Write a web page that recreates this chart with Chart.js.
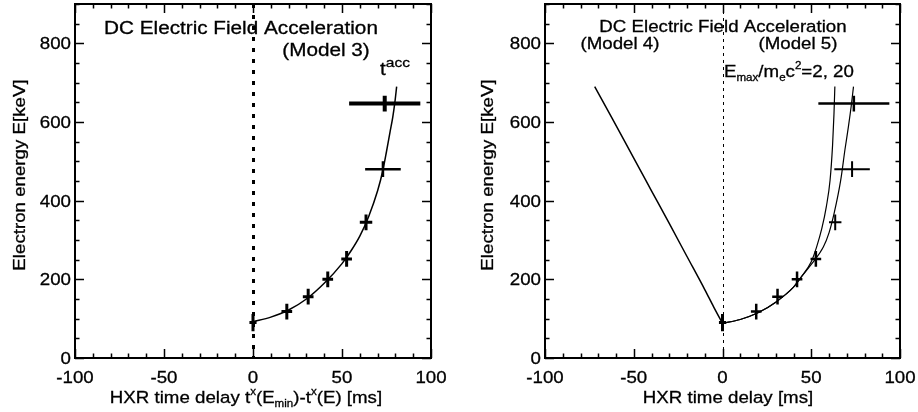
<!DOCTYPE html>
<html>
<head>
<meta charset="utf-8">
<script src="https://cdn.jsdelivr.net/npm/chart.js@4/dist/chart.umd.min.js"></script>
<style>
  html, body { margin: 0; padding: 0; background: #fff; }
  #wrap { display: flex; width: 918px; height: 412px; }
  canvas { display: block; }
</style>
</head>
<body>
<div id="wrap">
  <canvas id="left" width="459" height="412"></canvas>
  <canvas id="right" width="459" height="412"></canvas>
</div>
<script>
// Measured hard X-ray time delays and electron energies
const delayMs      = [0, 19, 31, 42, 52.6, 63.5, 73, 74];
const energyKeV    = [90, 118, 156, 200, 252, 345, 480, 647];
const delayErrMs   = [2, 3, 3, 3, 3, 3.5, 10, 20];
const energyErrKeV = [22, 20, 20, 20, 20, 20, 20, 20];

// Model 3: DC field acceleration time t_acc(E)
const model3T = [0, 10, 20, 30, 40, 50, 55, 60, 65, 70, 73, 75, 77, 78.5, 79.7, 80.7];
const model3E = [92, 104, 122, 150, 190, 240, 272, 310, 360, 425, 478, 525, 575, 612, 650, 690];

// Model 4: negative delays
const model4T = [-72, -62, -50, -40, -30, -20, -10, -5, 0];
const model4E = [690, 608, 508, 425, 342, 258, 174, 130, 88];

// Model 5: Emax/mc^2 = 2 and 20
const model5aT = [0, 10, 20, 30, 40, 44, 50, 53, 56, 58.5, 60.6, 62, 62.8, 63.3];
const model5aE = [88, 98, 115, 142, 180, 204, 245, 282, 330, 385, 452, 540, 620, 690];
const model5bT = [0, 10, 20, 30, 40, 44, 50, 56.8, 60, 63, 66.6, 69, 71, 72.5, 73.8];
const model5bE = [88, 98, 115, 142, 180, 204, 238, 282, 318, 370, 452, 530, 590, 640, 690];

// Axis ticks
const xTicks = [-100, -50, 0, 50, 100];
const yTicks = [0, 200, 400, 600, 800];

const FONT = '"Liberation Sans", Arial, Helvetica, sans-serif';

function runWidth(ctx, runs, size, sx) {
  let w = 0;
  for (const r of runs) {
    ctx.font = (r.v ? size * (r.k || 0.62) : size) + 'px ' + FONT;
    w += ctx.measureText(r.t).width * sx;
  }
  return w;
}
function drawRuns(ctx, runs, x, y, size, align, sx) {
  sx = sx || 1.1;
  const w = runWidth(ctx, runs, size, sx);
  let cx = align === 'center' ? x - w / 2 : align === 'right' ? x - w : x;
  ctx.textAlign = 'left';
  ctx.textBaseline = 'alphabetic';
  ctx.fillStyle = '#000';
  ctx.strokeStyle = '#000';
  ctx.lineWidth = 0.3;
  ctx.setLineDash([]);
  for (const r of runs) {
    const fs = r.v ? size * (r.k || 0.62) : size;
    ctx.font = fs + 'px ' + FONT;
    const dy = r.v === 'sup' ? -size * 0.45 : r.v === 'sub' ? size * 0.22 : 0;
    ctx.save();
    ctx.translate(cx, y + dy);
    ctx.scale(sx, 1);
    ctx.fillText(r.t, 0, 0);
    ctx.strokeText(r.t, 0, 0);
    ctx.restore();
    cx += ctx.measureText(r.t).width * sx;
  }
}
const T = s => [{ t: s }];

function curve(ts, es) { return ts.map((t, i) => ({ x: t, y: es[i] })); }

function lineSet(ts, es, w) {
  return {
    type: 'line', data: curve(ts, es), borderColor: '#000', borderWidth: w,
    pointRadius: 0, fill: false, cubicInterpolationMode: 'monotone'
  };
}

function panelPlugin(cfg) {
  return {
    id: 'panel',
    beforeDatasetsDraw(chart) {
      const { ctx, chartArea: a, scales: { x } } = chart;
      const x0 = Math.round(x.getPixelForValue(0)) + 0.5;
      ctx.save();
      ctx.strokeStyle = '#000';
      ctx.lineWidth = cfg.zeroWidth;
      ctx.setLineDash(cfg.zeroDash);
      ctx.beginPath();
      ctx.moveTo(x0, a.top);
      ctx.lineTo(x0, a.bottom);
      ctx.stroke();
      ctx.restore();
    },
    afterDatasetsDraw(chart) {
      const { ctx, chartArea: a, scales: { x, y } } = chart;
      ctx.save();
      // error bars
      ctx.strokeStyle = '#000';
      ctx.lineCap = 'butt';
      delayMs.forEach((t, i) => {
        const px = x.getPixelForValue(t), py = y.getPixelForValue(energyKeV[i]);
        ctx.lineWidth = cfg.barWidth[i];
        ctx.beginPath();
        ctx.moveTo(x.getPixelForValue(t - delayErrMs[i]), py);
        ctx.lineTo(x.getPixelForValue(t + delayErrMs[i]), py);
        ctx.moveTo(px, y.getPixelForValue(energyKeV[i] - energyErrKeV[i]));
        ctx.lineTo(px, y.getPixelForValue(energyKeV[i] + energyErrKeV[i]));
        ctx.stroke();
      });
      // frame
      ctx.lineWidth = 2;
      ctx.strokeRect(a.left, a.top, a.right - a.left, a.bottom - a.top);
      // inward ticks on all four sides
      ctx.lineWidth = 1.5;
      ctx.beginPath();
      for (let v = -100; v <= 100; v += 10) {
        const L = v % 50 === 0 ? 9 : 4.5;
        const px = Math.round(x.getPixelForValue(v)) + 0.5;
        ctx.moveTo(px, a.bottom); ctx.lineTo(px, a.bottom - L);
        ctx.moveTo(px, a.top); ctx.lineTo(px, a.top + L);
      }
      for (let v = 0; v <= 900; v += 50) {
        const L = v % 200 === 0 ? 9 : 4.5;
        const py = Math.round(y.getPixelForValue(v)) + 0.5;
        ctx.moveTo(a.left, py); ctx.lineTo(a.left + L, py);
        ctx.moveTo(a.right, py); ctx.lineTo(a.right - L, py);
      }
      ctx.stroke();
      // tick labels
      xTicks.forEach(v => drawRuns(ctx, T(String(v)), x.getPixelForValue(v), 383, 17, 'center'));
      yTicks.forEach(v => drawRuns(ctx, T(String(v)), a.left - 4, y.getPixelForValue(v) + 6, 17, 'right'));
      // axis titles
      drawRuns(ctx, cfg.xTitle, cfg.xTitleX, 403, 17, 'center');
      ctx.save();
      ctx.translate(cfg.yTitleX, 175);
      ctx.rotate(-Math.PI / 2);
      drawRuns(ctx, T('Electron energy E[keV]'), 0, 6, 17, 'center');
      ctx.restore();
      // annotations
      cfg.notes.forEach(n => drawRuns(ctx, n.runs, n.x, n.y, n.size || 17, n.align || 'center', n.sx));
      ctx.restore();
    }
  };
}

function makeChart(id, datasets, pad, cfg) {
  return new Chart(document.getElementById(id), {
    type: 'scatter',
    data: { datasets },
    options: {
      responsive: false, animation: false, devicePixelRatio: 1,
      layout: { padding: pad },
      plugins: { legend: { display: false }, tooltip: { enabled: false } },
      scales: {
        x: { type: 'linear', min: -100, max: 100, display: false },
        y: { type: 'linear', min: 0, max: 900, display: false }
      }
    },
    plugins: [panelPlugin(cfg)]
  });
}

makeChart('left', [lineSet(model3T, model3E, 1.5)],
  { left: 75, right: 28, top: 4, bottom: 54 },
  {
    zeroWidth: 3, zeroDash: [4, 7],
    barWidth: [3, 3, 3, 3, 3, 3, 2.5, 4],
    xTitleX: 246,
    xTitle: [{ t: 'HXR time delay t' }, { t: 'x', v: 'sup' }, { t: '(E' }, { t: 'min', v: 'sub' },
             { t: ')-t' }, { t: 'x', v: 'sup' }, { t: '(E) [ms]' }],
    yTitleX: 19,
    notes: [
      { runs: T('DC Electric Field Acceleration'), x: 241, y: 34, size: 18, sx: 1.15 },
      { runs: T('(Model 3)'), x: 326, y: 56, size: 18, sx: 1.15 },
      { runs: [{ t: 't' }, { t: 'acc', v: 'sup', k: 0.75 }], x: 380, y: 75, align: 'left', size: 18, sx: 1.15 }
    ]
  });

makeChart('right', [lineSet(model4T, model4E, 1.5), lineSet(model5aT, model5aE, 1.2), lineSet(model5bT, model5bE, 1.2)],
  { left: 86, right: 18, top: 4, bottom: 54 },
  {
    zeroWidth: 1, zeroDash: [3, 4],
    barWidth: [3, 2.5, 2.5, 2.5, 2.5, 2, 2, 2.5],
    xTitleX: 269,
    xTitle: T('HXR time delay [ms]'),
    yTitleX: 28,
    notes: [
      { runs: T('DC Electric Field Acceleration'), x: 264, y: 32 },
      { runs: T('(Model 4)'), x: 161, y: 49 },
      { runs: T('(Model 5)'), x: 339, y: 49 },
      { runs: [{ t: 'E' }, { t: 'max', v: 'sub' }, { t: '/m' }, { t: 'e', v: 'sub' }, { t: 'c' },
               { t: '2', v: 'sup' }, { t: '=2, 20' }], x: 265, y: 77, align: 'left' }
    ]
  });
</script>
</body>
</html>
